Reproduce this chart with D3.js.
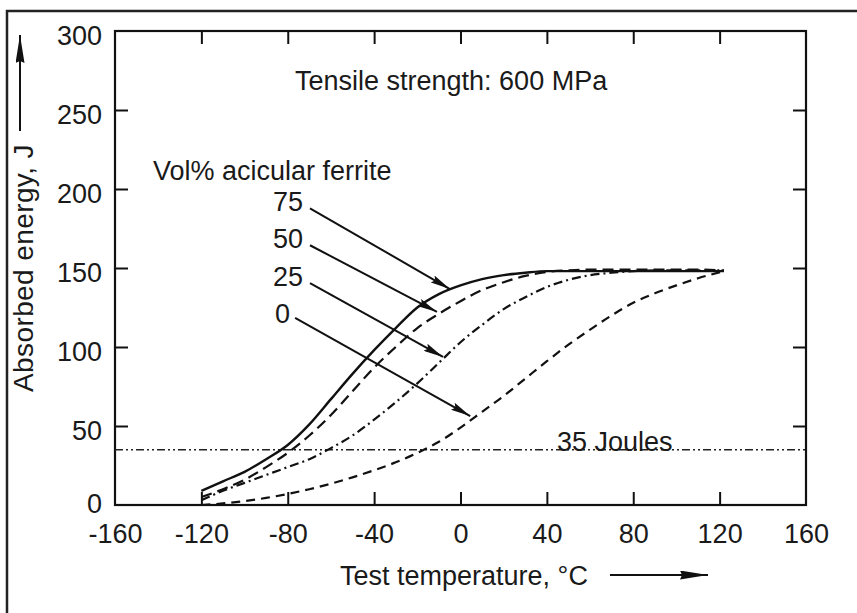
<!DOCTYPE html>
<html>
<head>
<meta charset="utf-8">
<script src="https://cdn.jsdelivr.net/npm/d3@7"></script>
<style>
  html, body { margin: 0; padding: 0; background: #fff; }
  svg text { font-family: "Liberation Sans", Arial, Helvetica, sans-serif; fill: #1a1a1a; }
</style>
</head>
<body>
<svg id="chart" width="857" height="613"></svg>
<script>
// ---------------- data ----------------
const temps     = [-120,-110,-100,-90,-80,-70,-60,-50,-40,-30,-20,-10,0,10,20,30,40,50,60,70,80,90,100,110,122];
const ferrite75 = [9,15,21,29,38,51,67,83,98,112,125,133.5,139,143,145.5,147,148,148,148,148,148,148,148,148,148];
const ferrite50 = [5,10,16,24,33,44,57,72,87,100,112,121,129,136,141,145,147.5,148.5,149,149,149,149,149,149,148.5];
const ferrite25 = [3,9,14,19,24,29,36,44,54,65,77,90,103,114,124,131.5,138,142.5,145.5,147,148,148.5,148.5,148.5,148.5];
const ferrite0  = [0,1,2.5,4.5,7,10,13.5,17.5,22,27,33,40,49,59,69,80,91,101.5,111,120,128,134,139,143.5,148];
const seriesLabels = ["75","50","25","0"];
// annotation arrows (temperature, energy): start and tip
const arrowFrom = [[-69.7,187.8],[-69.7,164.4],[-69.7,140.4],[-76.6,118.4]];
const arrowTo   = [[-4.9,136.7],[-10.9,122.2],[-8.1,93.7],[4.5,56.3]];
const xTicks = [-160,-120,-80,-40,0,40,80,120,160];
const yTicks = [0,50,100,150,200,250,300];
const refEnergy = 35;

// ---------------- layout ----------------
const svg = d3.select("#chart");
const L = 115, R = 806, T = 31, B = 505;
const x = d3.scaleLinear().domain([-160,160]).range([L,R]);
const y = d3.scaleLinear().domain([0,300]).range([B,T]);
const FS = 27;

// outer frame (left & top)
svg.append("path").attr("d","M7,613 L7,11 L857,11")
  .attr("fill","none").attr("stroke","#222").attr("stroke-width",2.5);

// defs: arrow marker
const defs = svg.append("defs");
defs.append("marker").attr("id","ah").attr("markerUnits","userSpaceOnUse")
  .attr("viewBox","0 0 20 8").attr("refX",20).attr("refY",4)
  .attr("markerWidth",20).attr("markerHeight",8).attr("orient","auto")
  .append("path").attr("d","M0,0 L20,4 L0,8 L3,4 Z").attr("fill","#111");

// plot box
svg.append("rect").attr("x",L).attr("y",T).attr("width",R-L).attr("height",B-T)
  .attr("fill","none").attr("stroke","#111").attr("stroke-width",2.2);

// axes
const inner = xTicks.slice(1,-1), innerY = yTicks.slice(1,-1);
const axB = svg.append("g").attr("transform",`translate(0,${B})`)
  .call(d3.axisBottom(x).tickValues(xTicks).tickSize(-13).tickPadding(19).tickFormat(d3.format("d")));
const axT = svg.append("g").attr("transform",`translate(0,${T})`)
  .call(d3.axisTop(x).tickValues(inner).tickSize(-13).tickFormat(""));
const axL = svg.append("g").attr("transform",`translate(${L},0)`)
  .call(d3.axisLeft(y).tickValues(yTicks).tickSize(-13).tickPadding(13));
const axR = svg.append("g").attr("transform",`translate(${R},0)`)
  .call(d3.axisRight(y).tickValues(innerY).tickSize(-13).tickFormat(""));
[axB,axT,axL,axR].forEach(g => {
  g.select(".domain").remove();
  g.selectAll(".tick line").attr("stroke","#111").attr("stroke-width",2);
  g.selectAll("text").attr("font-size",FS).attr("fill","#1a1a1a")
    .style("font-family","'Liberation Sans', Arial, sans-serif");
});
axB.selectAll(".tick").filter(d => d===-160 || d===160).select("line").remove();
axL.selectAll(".tick").filter(d => d===0 || d===300).select("line").remove();
axB.selectAll("text").text(d => d<0 ? "-"+Math.abs(d) : d).attr("dy","0.71em");
axL.selectAll("text").attr("dy", d => d===0 ? "0.28em" : "0.5em");

// 35 J reference line
svg.append("line").attr("x1",x(-160)).attr("x2",x(160))
  .attr("y1",y(refEnergy)).attr("y2",y(refEnergy))
  .attr("stroke","#222").attr("stroke-width",1.6).attr("stroke-dasharray","8,3,2,3,2,3");
svg.append("text").attr("x",557).attr("y",y(refEnergy)+1).attr("font-size",FS).text("35 Joules");

// curves
const line = d3.line().x(d => x(d[0])).y(d => y(d[1])).curve(d3.curveMonotoneX);
const series = [
  {v: ferrite75, dash: null, w: 2.4},
  {v: ferrite50, dash: "11,6", w: 2.2},
  {v: ferrite25, dash: "9,4,2,4", w: 2.2},
  {v: ferrite0,  dash: "9,6", w: 2.2}
];
series.forEach(s => {
  svg.append("path").datum(temps.map((t,i) => [t, s.v[i]]))
    .attr("d", line).attr("fill","none").attr("stroke","#111")
    .attr("stroke-width", s.w).attr("stroke-dasharray", s.dash);
});

// annotation arrows
arrowFrom.forEach((f,i) => {
  svg.append("line").attr("x1",x(f[0])).attr("y1",y(f[1]))
    .attr("x2",x(arrowTo[i][0])).attr("y2",y(arrowTo[i][1]))
    .attr("stroke","#111").attr("stroke-width",2).attr("marker-end","url(#ah)");
});
const labelX = [273,273,273,275], labelY = [211,248,286,323];
seriesLabels.forEach((t,i) => {
  svg.append("text").attr("x",labelX[i]).attr("y",labelY[i]).attr("font-size",FS).text(t);
});

// texts
svg.append("text").attr("x",295).attr("y",90).attr("font-size",FS).text("Tensile strength: 600 MPa");
svg.append("text").attr("x",153).attr("y",180).attr("font-size",FS).text("Vol% acicular ferrite");
svg.append("text").attr("x",340).attr("y",585).attr("font-size",FS).text("Test temperature, °C");
svg.append("text").attr("transform","translate(33,392) rotate(-90)").attr("font-size",28)
  .attr("letter-spacing","0.4").text("Absorbed energy, J");

// axis-title arrows
defs.append("marker").attr("id","ah2").attr("markerUnits","userSpaceOnUse")
  .attr("viewBox","0 0 28 9").attr("refX",28).attr("refY",4.5)
  .attr("markerWidth",28).attr("markerHeight",9).attr("orient","auto")
  .append("path").attr("d","M0,0 L28,4.5 L0,9 L2,4.5 Z").attr("fill","#111");
svg.append("line").attr("x1",610).attr("y1",575).attr("x2",708).attr("y2",575)
  .attr("stroke","#111").attr("stroke-width",2).attr("marker-end","url(#ah2)");
svg.append("line").attr("x1",20).attr("y1",131).attr("x2",20).attr("y2",35)
  .attr("stroke","#111").attr("stroke-width",2).attr("marker-end","url(#ah2)");
</script>
</body>
</html>
